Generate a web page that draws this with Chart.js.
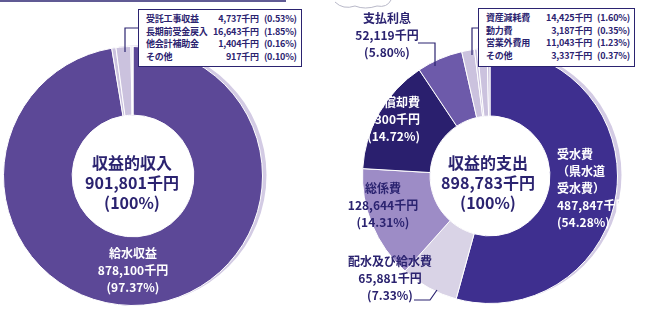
<!DOCTYPE html>
<html>
<head>
<meta charset="utf-8">
<script src="https://cdn.jsdelivr.net/npm/chart.js@4.4.1/dist/chart.umd.min.js"></script>
<style>
body { margin: 0; background: #fff; }
#page { position: relative; width: 645px; height: 311px; overflow: hidden;
        font-family: "Noto Sans CJK JP", sans-serif; font-weight: bold; color: #2b2370; }
.wrap { position: absolute; }
.lbl { position: absolute; font-size: 12px; line-height: 17px; white-space: nowrap; text-align: center; }
.ctr { position: absolute; font-size: 16px; line-height: 20px; white-space: nowrap; text-align: center; width: 130px; }
.box { position: absolute; background: #fff; border: 1.5px solid #2b2370; box-sizing: border-box; }
.box table { border-collapse: collapse; font-size: 9px; line-height: 12.5px; margin: 3px 0 0 7px; letter-spacing: -0.2px; }
.box td { padding: 0; white-space: nowrap; }
.box td.v { text-align: right; padding-right: 5px; }
.white { color: #fff; }
svg { position: absolute; left: 0; top: 0; }
</style>
</head>
<body>
<div id="page">
  <div class="wrap" style="left:-2px; top:41px; width:270px; height:270px;"><canvas id="income"></canvas></div>
  <div class="wrap" style="left:357px; top:43px; width:266px; height:266px;"><canvas id="expense"></canvas></div>

  <svg width="645" height="311">
    <line x1="0" y1="1" x2="286" y2="1" stroke="#2b2370" stroke-width="1.5"/>
    <polyline points="138,28 125,28 125,52" fill="none" stroke="#2b2370" stroke-width="1.2"/>
    <polyline points="478,28 472,28 472,55" fill="none" stroke="#2b2370" stroke-width="1.2"/>
    <polyline points="418,43 435,43 435,66" fill="none" stroke="#2b2370" stroke-width="1.2"/>
    <polyline points="414,300 430,300 437,290" fill="none" stroke="#2b2370" stroke-width="1.2"/>
    <path d="M335,2 q8,8 20,4 q10,4 22,0 q10,2 14,-6" fill="none" stroke="#b8b8c8" stroke-width="1"/>
  </svg>

  <div class="box" id="incomeBox" style="left:138px; top:9px; width:164px; height:58px;"></div>
  <div class="box" id="expenseBox" style="left:478px; top:8px; width:157px; height:59px;"></div>

  <div class="ctr" id="incomeCenter" style="left:67px; top:152px;"></div>
  <div class="ctr" id="expenseCenter" style="left:423px; top:152px;"></div>

  <div class="lbl white" id="lblIncome0" style="left:83px; top:244px; width:100px;"></div>
  <div class="lbl white" id="lblExp0" style="left:557px; top:145px; text-align:left;"></div>
  <div class="lbl" id="lblExp1" style="left:335px; top:252px; width:110px;"></div>
  <div class="lbl" id="lblExp2" style="left:333px; top:179px; width:100px;"></div>
  <div class="lbl white" id="lblExp3" style="left:320px; top:93px; width:100px; text-align:right;"></div>
  <div class="lbl" id="lblExp4" style="left:337px; top:9px; width:100px;"></div>
</div>

<script>
// 収益的収入
const incomeTitle = "収益的収入";
const incomeLabels = ["給水収益", "受託工事収益", "長期前受金戻入", "他会計補助金", "その他"];
const incomeValues = [878100, 4737, 16643, 1404, 917];

// 収益的支出
const expenseTitle = "収益的支出";
const expenseLabels = ["受水費", "配水及び給水費", "総係費", "減価償却費", "支払利息",
                       "資産減耗費", "動力費", "営業外費用", "その他"];
const expenseValues = [487847, 65881, 128644, 132300, 52119, 14425, 3187, 11043, 3337];

const incomeColors = ["#5c4897", "#cbc2de", "#cbc2de", "#cbc2de", "#cbc2de"];
const expenseColors = ["#3e2f8f", "#d9d3e6", "#9d8cc6", "#2a1f6e", "#6d5aaa",
                       "#cbc2de", "#cbc2de", "#cbc2de", "#cbc2de"];

const fmt = n => n.toLocaleString("en-US");
const sum = a => a.reduce((s, v) => s + v, 0);
const pct = (v, t) => (v / t * 100).toFixed(2) + "%";

// 右側にずれた薄い影（輪だけ）
const shadowPlugin = {
    id: "shadow",
    beforeDatasetsDraw(chart) {
        const arc = chart.getDatasetMeta(0).data[0];
        if (!arc) return;
        const ctx = chart.ctx;
        ctx.save();
        ctx.fillStyle = "#d3cbe4";
        ctx.beginPath();
        ctx.arc(arc.x + 4, arc.y - 1, arc.outerRadius, 0, Math.PI * 2);
        ctx.fill();
        ctx.fillStyle = "#ffffff";
        ctx.beginPath();
        ctx.arc(arc.x, arc.y, arc.innerRadius, 0, Math.PI * 2);
        ctx.fill();
        ctx.restore();
    }
};

function makeDonut(id, labels, values, colors) {
    return new Chart(document.getElementById(id), {
        type: "doughnut",
        data: {
            labels: labels,
            datasets: [{
                data: values,
                backgroundColor: colors,
                borderColor: "#ffffff",
                borderWidth: 1
            }]
        },
        options: {
            responsive: true,
            maintainAspectRatio: false,
            animation: false,
            cutout: "47%",
            layout: { padding: 5 },
            plugins: {
                legend: { display: false },
                tooltip: { enabled: false }
            }
        },
        plugins: [shadowPlugin]
    });
}

makeDonut("income", incomeLabels, incomeValues, incomeColors);
makeDonut("expense", expenseLabels, expenseValues, expenseColors);

const incomeTotal = sum(incomeValues);
const expenseTotal = sum(expenseValues);

function fillBox(id, labels, values, total, from, w) {
    let html = "<table>";
    for (let i = from; i < labels.length; i++) {
        html += "<tr><td style='width:" + w[0] + "px'>" + labels[i] + "</td><td class='v' style='width:" + w[1] +
                "px'>" + fmt(values[i]) + "千円</td><td>(" + pct(values[i], total) + ")</td></tr>";
    }
    document.getElementById(id).innerHTML = html + "</table>";
}
fillBox("incomeBox", incomeLabels, incomeValues, incomeTotal, 1, [67, 40]);
fillBox("expenseBox", expenseLabels, expenseValues, expenseTotal, 5, [50, 56]);

document.getElementById("incomeCenter").innerHTML =
    incomeTitle + "<br>" + fmt(incomeTotal) + "千円<br>(100%)";
document.getElementById("expenseCenter").innerHTML =
    expenseTitle + "<br>" + fmt(expenseTotal) + "千円<br>(100%)";

function sliceLabel(id, name, v, total) {
    document.getElementById(id).innerHTML = name + "<br>" + fmt(v) + "千円<br>(" + pct(v, total) + ")";
}
sliceLabel("lblIncome0", incomeLabels[0], incomeValues[0], incomeTotal);
document.getElementById("lblExp0").innerHTML = expenseLabels[0] + "<br>（県水道<br>受水費）<br>" +
    fmt(expenseValues[0]) + "千円<br>(" + pct(expenseValues[0], expenseTotal) + ")";
for (let i = 1; i <= 4; i++) {
    sliceLabel("lblExp" + i, expenseLabels[i], expenseValues[i], expenseTotal);
}
</script>
</body>
</html>
